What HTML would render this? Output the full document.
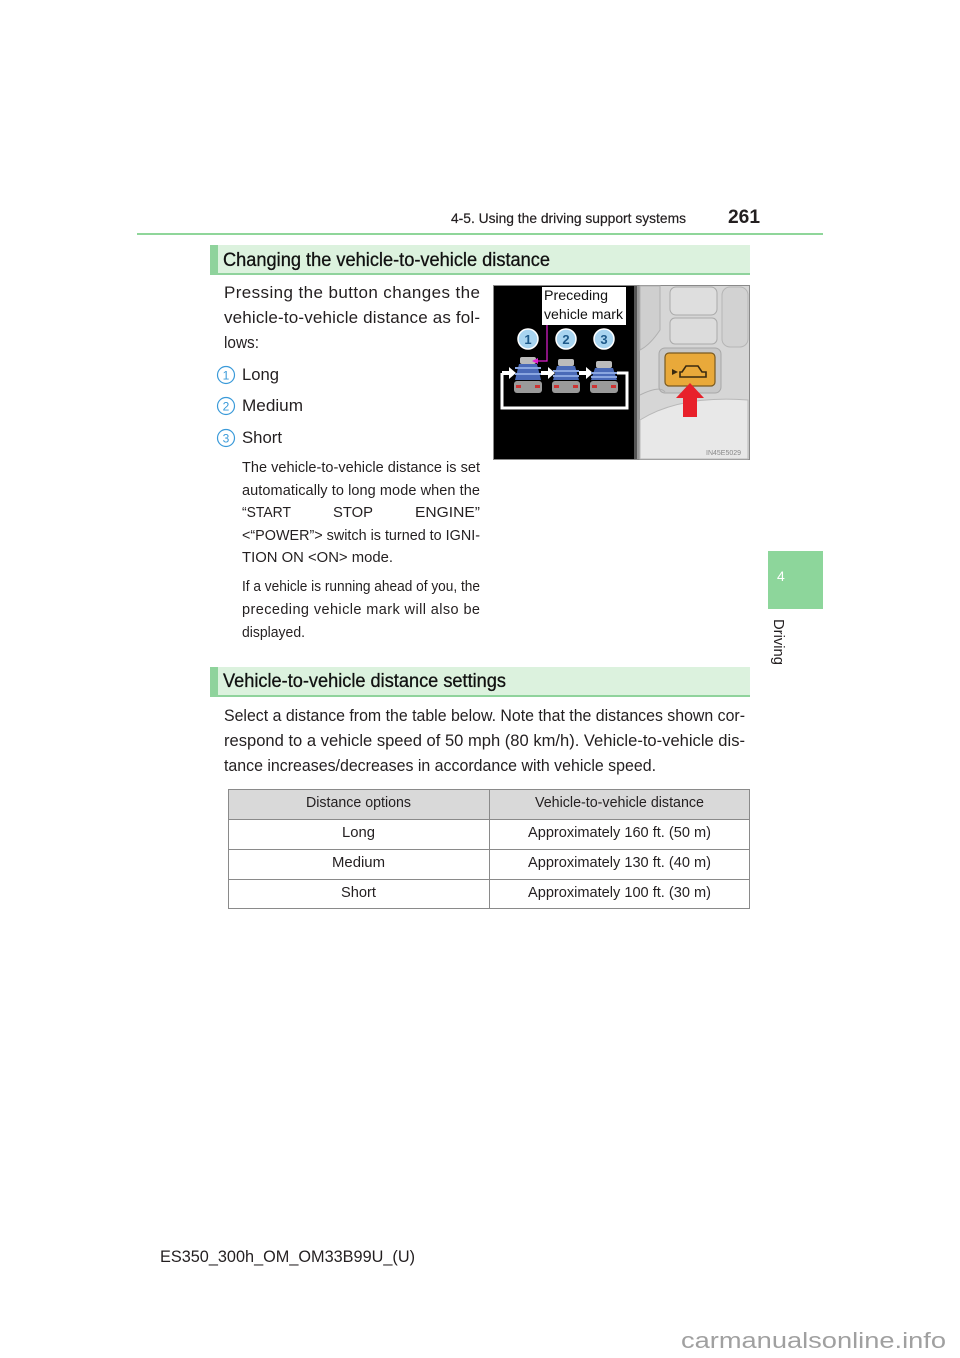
<!DOCTYPE html>
<html><head><meta charset="utf-8"><style>
html,body{margin:0;padding:0;background:#fff;}
svg{display:block;}
text{font-family:"Liberation Sans",sans-serif;}
</style></head><body>
<svg width="960" height="1358" viewBox="0 0 960 1358" xmlns="http://www.w3.org/2000/svg">
<rect width="960" height="1358" fill="#fff"/>
<!-- header -->
<text x="451" y="223" font-size="14" fill="#231f20" stroke="#231f20" stroke-width="0.2" textLength="235" lengthAdjust="spacingAndGlyphs">4-5. Using the driving support systems</text>
<text x="728" y="223" font-size="19" font-weight="bold" fill="#231f20" textLength="32" lengthAdjust="spacingAndGlyphs">261</text>
<rect x="137" y="233" width="686" height="2" fill="#8fd69a"/>

<!-- side tab -->
<rect x="768" y="551" width="55" height="58" fill="#8dd69b"/>
<text x="777" y="581" font-size="14" fill="#fff">4</text>
<text transform="translate(774,619) rotate(90)" font-size="15" fill="#231f20" textLength="46" lengthAdjust="spacingAndGlyphs">Driving</text>

<!-- section 1 header -->
<rect x="210" y="245" width="540" height="30" fill="#dcf2de"/>
<rect x="210" y="273" width="540" height="2" fill="#8fd39c"/>
<rect x="210" y="245" width="8" height="30" fill="#8fd39c"/>
<text x="223" y="266" font-size="19.5" fill="#111" stroke="#111" stroke-width="0.3" textLength="327" lengthAdjust="spacingAndGlyphs">Changing the vehicle-to-vehicle distance</text>

<!-- para 1 -->
<g font-size="17" fill="#231f20">
<text x="224" y="298" textLength="256" lengthAdjust="spacing">Pressing the button changes the</text>
<text x="224" y="323" textLength="256" lengthAdjust="spacing">vehicle-to-vehicle distance as fol-</text>
<text x="224" y="348" textLength="35" lengthAdjust="spacingAndGlyphs">lows:</text>
<text x="242" y="380" textLength="37" lengthAdjust="spacingAndGlyphs">Long</text>
<text x="242" y="411" textLength="61" lengthAdjust="spacingAndGlyphs">Medium</text>
<text x="242" y="443" textLength="40" lengthAdjust="spacingAndGlyphs">Short</text>
</g>
<g fill="none" stroke="#3a9ad9" stroke-width="1.2">
<circle cx="226" cy="375" r="8.5"/><circle cx="226" cy="406" r="8.5"/><circle cx="226" cy="438" r="8.5"/>
</g>
<g font-size="12" fill="#3a9ad9" text-anchor="middle">
<text x="226" y="379.5">1</text><text x="226" y="410.5">2</text><text x="226" y="442.5">3</text>
</g>

<!-- note text -->
<g font-size="14.5" fill="#231f20">
<text x="242" y="472" textLength="238" lengthAdjust="spacing">The vehicle-to-vehicle distance is set</text>
<text x="242" y="495" textLength="238" lengthAdjust="spacing">automatically to long mode when the</text>
<text x="242" y="517" textLength="49" lengthAdjust="spacingAndGlyphs">“START</text>
<text x="333" y="517" textLength="40" lengthAdjust="spacingAndGlyphs">STOP</text>
<text x="415" y="517" textLength="65" lengthAdjust="spacingAndGlyphs">ENGINE”</text>
<text x="242" y="540" textLength="238" lengthAdjust="spacingAndGlyphs">&lt;“POWER”&gt; switch is turned to IGNI-</text>
<text x="242" y="562" textLength="151" lengthAdjust="spacingAndGlyphs">TION ON &lt;ON&gt; mode.</text>
<text x="242" y="591" textLength="238" lengthAdjust="spacingAndGlyphs">If a vehicle is running ahead of you, the</text>
<text x="242" y="614" textLength="238" lengthAdjust="spacing">preceding vehicle mark will also be</text>
<text x="242" y="637" textLength="63" lengthAdjust="spacingAndGlyphs">displayed.</text>
</g>

<!-- illustration -->
<g>
<rect x="493.5" y="285.5" width="256" height="174" fill="#d6d6d6" stroke="#8a8a8a" stroke-width="1"/>
<rect x="494" y="286" width="140" height="173" fill="#000"/>
<rect x="634" y="286" width="3" height="173" fill="#555"/>
<rect x="637" y="286" width="3" height="173" fill="#9a9a9a"/>
<path d="M640 286 L660 286 L660 330 Q650 345 640 350 Z" fill="#cfcfcf" stroke="#b0b0b0"/>
<rect x="670" y="287" width="47" height="28" rx="6" fill="#dedede" stroke="#aaa"/>
<rect x="670" y="318" width="47" height="26" rx="5" fill="#dcdcdc" stroke="#aaa"/>
<rect x="722" y="287" width="26" height="60" rx="8" fill="#d2d2d2" stroke="#b5b5b5"/>
<rect x="659" y="348" width="62" height="45" rx="6" fill="#c8c8c8" stroke="#a8a8a8"/>
<path d="M640 420 Q680 395 748 400 L748 459 L640 459 Z" fill="#e8e8e8" stroke="#b8b8b8"/>
<path d="M640 395 Q660 385 665 392" fill="none" stroke="#b0b0b0"/>
<rect x="665" y="353" width="50" height="33" rx="4" fill="#e9a93a" stroke="#7a5a20" stroke-width="1.2"/>
<path d="M682 372 L686 366 L698 366 L702 372 L706 372 L706 377 L680 377 L680 372 Z" fill="none" stroke="#3a2a10" stroke-width="1.6"/>
<path d="M672 369 L678 372 L672 375 Z" fill="#3a2a10"/>
<polygon points="690,383 704,398 697,398 697,417 683,417 683,398 676,398" fill="#e8202a"/>
<text x="706" y="455" font-size="7" fill="#888">IN45E5029</text>
<g fill="#a8d4f0" stroke="#fff" stroke-width="1.5">
<circle cx="528" cy="339" r="10"/><circle cx="566" cy="339" r="10"/><circle cx="604" cy="339" r="10"/>
</g>
<g font-size="13" font-weight="bold" fill="#1e5a8a" text-anchor="middle">
<text x="528" y="344">1</text><text x="566" y="344">2</text><text x="604" y="344">3</text>
</g>
<path d="M502 373 L502 408 L627 408 L627 373 L617 373" fill="none" stroke="#fff" stroke-width="3"/>
<g fill="#fff">
<rect x="502" y="371" width="8" height="4"/><polygon points="509,367 516,373 509,379"/>
<rect x="541" y="371" width="8" height="4"/><polygon points="548,367 555,373 548,379"/>
<rect x="579" y="371" width="8" height="4"/><polygon points="586,367 593,373 586,379"/>
</g>
<g>
<rect x="520" y="357" width="16" height="7" rx="2" fill="#bbb"/>
<polygon points="519,364 537,364 541,380 515,380" fill="#4a6ab8"/>
<rect x="515" y="367" width="26" height="2" fill="#8aa6e0"/><rect x="515" y="373" width="26" height="2" fill="#8aa6e0"/>
<rect x="514" y="381" width="28" height="12" rx="3" fill="#9a9a9a"/>
<rect x="516" y="385" width="5" height="3" fill="#c33"/><rect x="535" y="385" width="5" height="3" fill="#c33"/>
<rect x="558" y="359" width="16" height="7" rx="2" fill="#bbb"/>
<polygon points="557,366 575,366 579,380 553,380" fill="#4a6ab8"/>
<rect x="553" y="370" width="26" height="2" fill="#8aa6e0"/><rect x="553" y="375" width="26" height="2" fill="#8aa6e0"/>
<rect x="552" y="381" width="28" height="12" rx="3" fill="#9a9a9a"/>
<rect x="554" y="385" width="5" height="3" fill="#c33"/><rect x="573" y="385" width="5" height="3" fill="#c33"/>
<rect x="596" y="361" width="16" height="7" rx="2" fill="#bbb"/>
<polygon points="595,368 613,368 617,380 591,380" fill="#4a6ab8"/>
<rect x="591" y="372" width="26" height="2" fill="#8aa6e0"/><rect x="591" y="376" width="26" height="2" fill="#8aa6e0"/>
<rect x="590" y="381" width="28" height="12" rx="3" fill="#9a9a9a"/>
<rect x="592" y="385" width="5" height="3" fill="#c33"/><rect x="611" y="385" width="5" height="3" fill="#c33"/>
</g>
<path d="M547 325 L547 361 L536 361" fill="none" stroke="#e020d0" stroke-width="1.2"/>
<polygon points="532,361 538,358 538,364" fill="#e020d0"/>
<rect x="542" y="287" width="84" height="38" fill="#fff"/>
<text x="544" y="300" font-size="14" fill="#111" textLength="64" lengthAdjust="spacingAndGlyphs">Preceding</text>
<text x="544" y="319" font-size="14" fill="#111" textLength="79" lengthAdjust="spacingAndGlyphs">vehicle mark</text>
</g>

<!-- section 2 header -->
<rect x="210" y="667" width="540" height="30" fill="#dcf2de"/>
<rect x="210" y="695" width="540" height="2" fill="#8fd39c"/>
<rect x="210" y="667" width="8" height="30" fill="#8fd39c"/>
<text x="223" y="687" font-size="19.5" fill="#111" stroke="#111" stroke-width="0.3" textLength="283" lengthAdjust="spacingAndGlyphs">Vehicle-to-vehicle distance settings</text>

<!-- para 2 -->
<g font-size="17" fill="#231f20">
<text x="224" y="721" textLength="521" lengthAdjust="spacingAndGlyphs">Select a distance from the table below. Note that the distances shown cor-</text>
<text x="224" y="746" textLength="521" lengthAdjust="spacingAndGlyphs">respond to a vehicle speed of 50 mph (80 km/h). Vehicle-to-vehicle dis-</text>
<text x="224" y="771" textLength="432" lengthAdjust="spacingAndGlyphs">tance increases/decreases in accordance with vehicle speed.</text>
</g>

<!-- table -->
<rect x="228.5" y="789.5" width="521" height="30" fill="#d9d9d9"/>
<g fill="none" stroke="#8a8a8a" stroke-width="1">
<rect x="228.5" y="789.5" width="521" height="119"/>
<line x1="228.5" y1="819.5" x2="749.5" y2="819.5"/>
<line x1="228.5" y1="849.5" x2="749.5" y2="849.5"/>
<line x1="228.5" y1="879.5" x2="749.5" y2="879.5"/>
<line x1="489.5" y1="789.5" x2="489.5" y2="908.5"/>
</g>
<g font-size="15" fill="#231f20">
<text x="306" y="807" textLength="105" lengthAdjust="spacingAndGlyphs">Distance options</text>
<text x="535" y="807" textLength="169" lengthAdjust="spacingAndGlyphs">Vehicle-to-vehicle distance</text>
<text x="342" y="837" textLength="33" lengthAdjust="spacingAndGlyphs">Long</text>
<text x="528" y="837" textLength="183" lengthAdjust="spacingAndGlyphs">Approximately 160 ft. (50 m)</text>
<text x="332" y="867" textLength="53" lengthAdjust="spacingAndGlyphs">Medium</text>
<text x="528" y="867" textLength="183" lengthAdjust="spacingAndGlyphs">Approximately 130 ft. (40 m)</text>
<text x="341" y="897" textLength="35" lengthAdjust="spacingAndGlyphs">Short</text>
<text x="528" y="897" textLength="183" lengthAdjust="spacingAndGlyphs">Approximately 100 ft. (30 m)</text>
</g>

<!-- footer -->
<text x="160" y="1262" font-size="17" fill="#231f20" textLength="255" lengthAdjust="spacingAndGlyphs">ES350_300h_OM_OM33B99U_(U)</text>
<text x="681" y="1348" font-size="22" fill="#a0a0a0" textLength="265" lengthAdjust="spacingAndGlyphs">carmanualsonline.info</text>
</svg>
</body></html>
